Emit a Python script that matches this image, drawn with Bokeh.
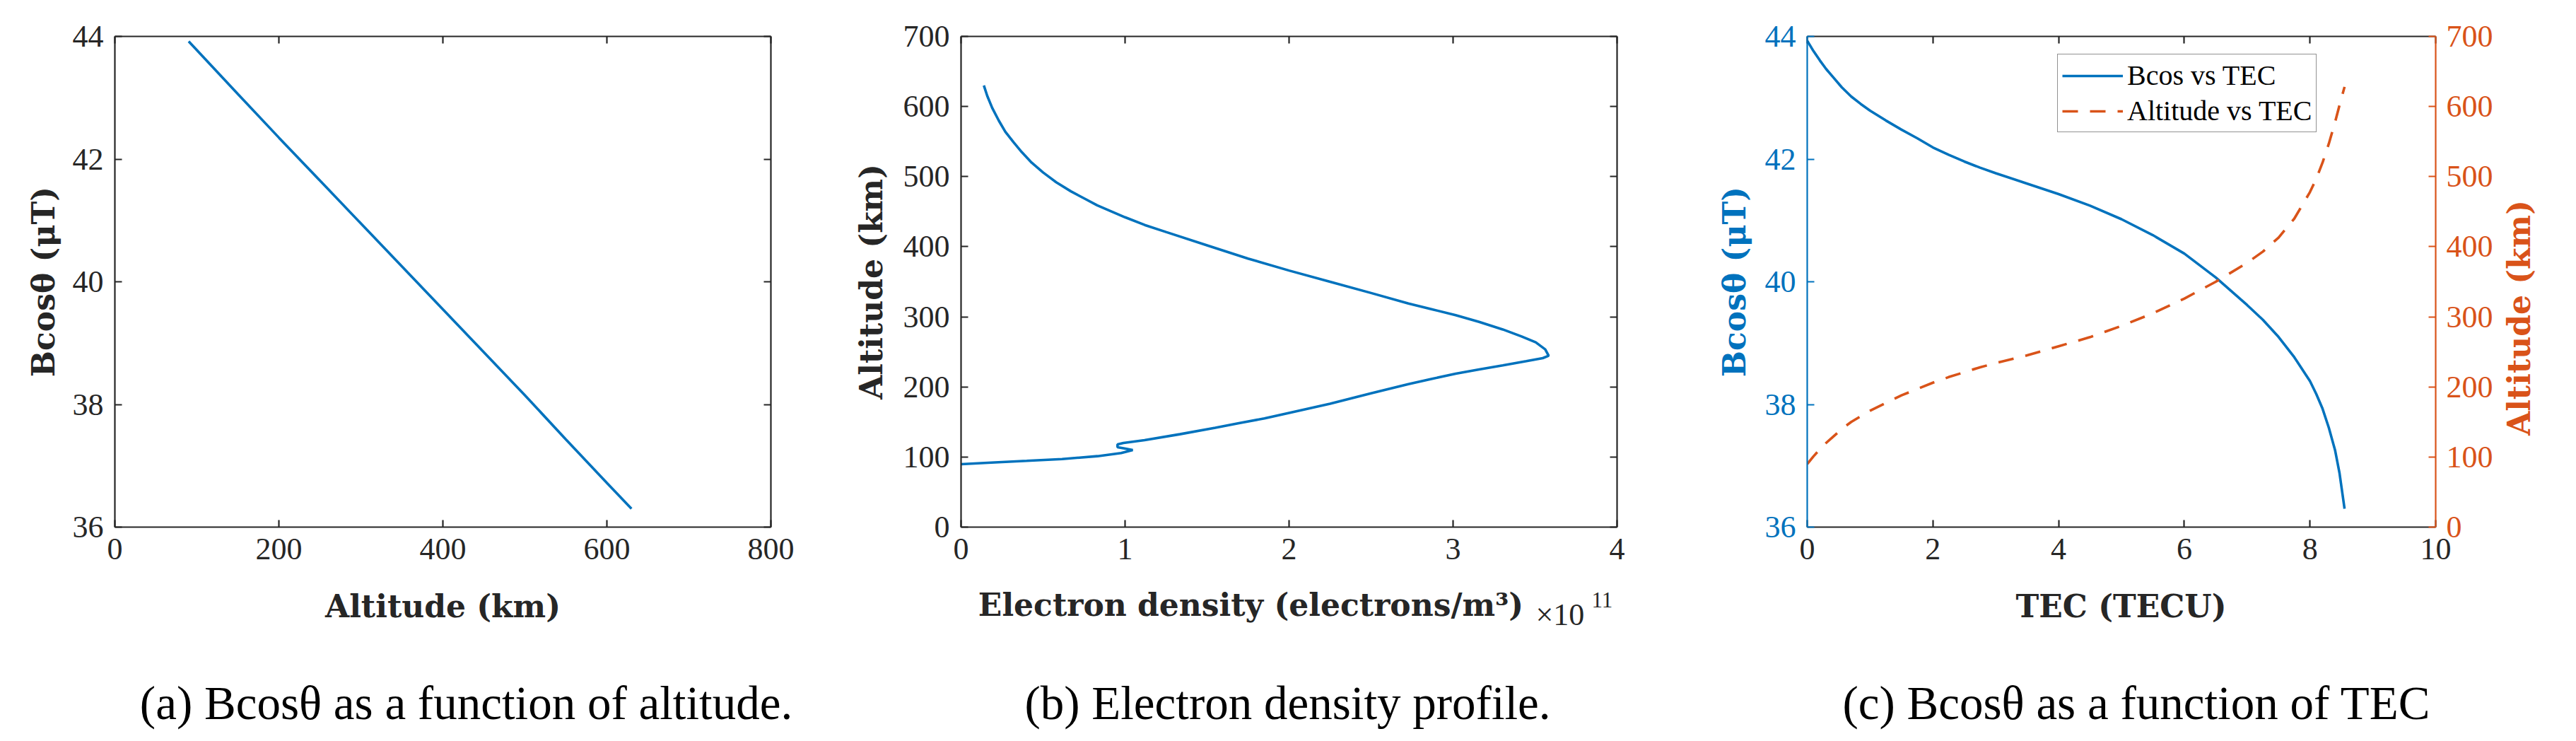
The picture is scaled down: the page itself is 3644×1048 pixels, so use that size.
import math
from bokeh.plotting import figure
from bokeh.models import (Range1d, LinearAxis, FixedTicker, Label, Legend,
                          LegendItem, CustomJSTickFormatter)
from bokeh.layouts import row, column
from bokeh.embed import file_html
from bokeh.resources import INLINE

# ---------------- data ----------------
# (a) Bcos(theta) vs altitude
alt_a = [90, 150, 200, 250, 300, 350, 400, 450, 500, 550, 600, 630]
bcos_a = [43.92, 43.06, 42.35, 41.65, 40.95, 40.25, 39.55, 38.85, 38.15, 37.43, 36.72, 36.30]

# (b) electron density profile (density in units of 1e11 electrons/m^3)
alt_b = [630, 615, 598, 580, 564, 549, 535, 520, 506, 492, 479, 469, 459, 450, 442,
         431, 421, 402, 383, 366, 350, 334, 319,
         310.7, 302.3, 292.8, 282, 272, 263.6, 253.5, 244.4, 241.1, 236.7, 230.7,
         224.9, 218.9, 211.5, 204.1, 191, 176, 163, 155, 148.3, 141.8, 132.5, 124.1,
         120, 118, 114, 112.3, 109.9, 105.6, 101.2, 97.1, 94.5, 92.1, 89.8]
ne_b = [0.139, 0.16, 0.19, 0.23, 0.27, 0.32, 0.37, 0.43, 0.5, 0.58, 0.67, 0.75, 0.83,
        0.92, 1.0, 1.12, 1.25, 1.5, 1.75, 2.0, 2.25, 2.5, 2.728,
        2.872, 3.016, 3.159, 3.303, 3.418, 3.504, 3.562, 3.583, 3.547,
        3.447, 3.303, 3.159, 3.016, 2.872, 2.728, 2.5, 2.25, 2.0, 1.85, 1.694, 1.55,
        1.334, 1.119, 0.99, 0.954, 0.954, 0.997, 1.047, 0.976, 0.832, 0.616, 0.40,
        0.185, 0.0]

# (c) Bcos and altitude vs TEC
tec_c = [0, 0.1, 0.2, 0.3, 0.4, 0.55, 0.7, 0.85, 1.0, 1.25, 1.5, 1.75, 2.0, 2.25,
         2.5, 2.75, 3.0, 3.5, 4.0, 4.5, 5.0, 5.5, 6.0, 6.5, 7.0, 7.25, 7.5, 7.75,
         8.0, 8.1, 8.2, 8.3, 8.4, 8.47, 8.55]
bcos_c = [43.93, 43.76, 43.61, 43.47, 43.35, 43.17, 43.02, 42.90, 42.79, 42.63,
          42.48, 42.34, 42.19, 42.07, 41.96, 41.86, 41.77, 41.60, 41.43, 41.24,
          41.02, 40.76, 40.46, 40.07, 39.62, 39.38, 39.10, 38.77, 38.38, 38.17,
          37.93, 37.62, 37.25, 36.88, 36.30]
alt_c = [90, 101, 111, 120, 128, 140, 150, 158, 166, 177, 188, 197, 206, 214, 221,
         228, 234, 245, 258, 271, 287, 305, 326, 350, 377, 393, 413, 440, 478, 497,
         520, 547, 578, 602, 628]

# tick values
ticks_alt800 = [0, 200, 400, 600, 800]
ticks_b36 = [36, 38, 40, 42, 44]
ticks_ne = [0, 1, 2, 3, 4]
ticks_alt700 = [0, 100, 200, 300, 400, 500, 600, 700]
ticks_tec = [0, 2, 4, 6, 8, 10]

xlabels = ["Altitude (km)", "Electron density (electrons/m³)", "TEC (TECU)"]
ylabels = ["Bcosθ (μT)", "Altitude (km)", "Bcosθ (μT)", "Altitude (km)"]
captions = ["(a) Bcosθ as a function of altitude.",
            "(b) Electron density profile.",
            "(c) Bcosθ as a function of TEC"]
legend_labels = ["Bcos vs TEC", "Altitude vs TEC"]

# ---------------- style ----------------
FT = "Liberation Serif"
FL = "DejaVu Serif"
DARK = "#262626"
BLUE = "#0072BD"
ORANGE = "#D95319"
TICK_FS = "44px"
LAB_FS = "44px"
CAP_FS = "67px"
LW_AX = 2.2
LW_LINE = 3.6
TOP_H = 814          # height of the plot row (page y 8 .. 822)
ANN_H = 218          # height of the text strip under it
FH = 694             # frame height of the three panels


def style_axis(ax, ticks, color=DARK, show_labels=True, label_standoff=10):
    ax.ticker = FixedTicker(ticks=ticks)
    ax.axis_line_color = color
    ax.axis_line_width = LW_AX
    ax.major_tick_line_color = color
    ax.major_tick_line_width = LW_AX
    ax.major_tick_in = 10
    ax.major_tick_out = 0
    ax.minor_tick_line_color = None
    ax.major_label_text_font = FT
    ax.major_label_text_font_size = TICK_FS
    ax.major_label_text_color = color
    ax.major_label_standoff = 16
    ax.axis_label_text_font = FL
    ax.axis_label_text_font_style = "bold"
    ax.axis_label_text_font_size = LAB_FS
    ax.axis_label_text_color = color
    ax.axis_label_standoff = label_standoff
    if not show_labels:
        ax.formatter = CustomJSTickFormatter(code="return ''")
        ax.major_label_text_font_size = "0px"
        ax.major_label_text_color = None
        ax.major_label_standoff = 0


def mirror(p, side, ticks):
    ax = LinearAxis()
    style_axis(ax, ticks, show_labels=False)
    p.add_layout(ax, side)


def make_fig(fw, left, right, xr, yr):
    p = figure(frame_width=fw, frame_height=FH, x_range=xr, y_range=yr,
               output_backend="svg", toolbar_location=None,
               min_border_left=left, min_border_right=right,
               min_border_top=51, min_border_bottom=TOP_H - 51 - FH)
    p.outline_line_color = None
    p.xgrid.visible = False
    p.ygrid.visible = False
    p.background_fill_color = "white"
    p.border_fill_color = "white"
    return p


def blank_fig(w, h):
    p = figure(frame_width=w, frame_height=h, x_range=Range1d(0, 1), y_range=Range1d(0, 1),
               output_backend="svg", toolbar_location=None,
               x_axis_location=None, y_axis_location=None,
               min_border_left=0, min_border_right=0, min_border_top=0,
               min_border_bottom=0)
    p.outline_line_color = None
    p.xgrid.visible = False
    p.ygrid.visible = False
    return p


# ---------------- panel (a) ----------------
pa = make_fig(928, 162, 102, Range1d(0, 800), Range1d(36, 44))
pa.line(alt_a, bcos_a, line_color=BLUE, line_width=LW_LINE)
style_axis(pa.xaxis[0], ticks_alt800)
style_axis(pa.yaxis[0], ticks_b36, label_standoff=13)
pa.yaxis[0].axis_label = ylabels[0]
mirror(pa, "above", ticks_alt800)
mirror(pa, "right", ticks_b36)

# ---------------- panel (b) ----------------
pb = make_fig(928, 167, 105, Range1d(0, 4), Range1d(0, 700))
pb.line(ne_b, alt_b, line_color=BLUE, line_width=LW_LINE)
style_axis(pb.xaxis[0], ticks_ne)
style_axis(pb.yaxis[0], ticks_alt700, label_standoff=17)
pb.yaxis[0].axis_label = ylabels[1]
mirror(pb, "above", ticks_ne)
mirror(pb, "right", ticks_alt700)

# ---------------- panel (c) ----------------
pc = make_fig(889, 164, 90, Range1d(0, 10), Range1d(36, 44))
pc.extra_y_ranges = {"alt": Range1d(0, 700)}
r1 = pc.line(tec_c, bcos_c, line_color=BLUE, line_width=LW_LINE)
r2 = pc.line(tec_c, alt_c, y_range_name="alt", line_color=ORANGE,
             line_width=LW_LINE, line_dash="22 17")
style_axis(pc.xaxis[0], ticks_tec)
style_axis(pc.yaxis[0], ticks_b36, color=BLUE, label_standoff=15)
pc.yaxis[0].axis_label = ylabels[2]
rax = LinearAxis(y_range_name="alt")
style_axis(rax, ticks_alt700, color=ORANGE)
rax.major_label_standoff = 15
pc.add_layout(rax, "right")
mirror(pc, "above", ticks_tec)
legend = Legend(items=[LegendItem(label=legend_labels[0], renderers=[r1]),
                       LegendItem(label=legend_labels[1], renderers=[r2])],
                location=(354, 558), margin=0, padding=6, spacing=3,
                glyph_width=86, glyph_height=20, label_standoff=6,
                label_text_font=FT, label_text_font_size="40px",
                label_text_color="black", border_line_color=DARK,
                border_line_width=1.3, background_fill_color="white",
                background_fill_alpha=1.0)
pc.add_layout(legend)

# right-hand axis title of (c), reading bottom to top, in its own strip
pr = blank_fig(93, TOP_H)
pr.add_layout(Label(x=28, y=TOP_H - (406 - 8), x_units="screen", y_units="screen",
                    text=ylabels[3], angle=math.pi / 2, text_align="center",
                    text_baseline="middle", text_font=FL, text_font_style="bold",
                    text_font_size=LAB_FS, text_color=ORANGE))

# ---------------- text strip: x labels, exponent, captions ----------------
ann = blank_fig(3628, ANN_H)


def put(x, y, text, font, size, color, align="center", style="normal"):
    # x, y: page pixels (y = baseline), converted to the strip's screen units
    ann.add_layout(Label(x=x - 8, y=8 + TOP_H + ANN_H - y, x_units="screen", y_units="screen",
                         text=text, text_align=align, text_baseline="alphabetic",
                         text_font=font, text_font_style=style, text_font_size=size,
                         text_color=color))


put(634, 865, xlabels[0], FL, LAB_FS, DARK, style="bold")
put(1777, 863, xlabels[1], FL, LAB_FS, DARK, style="bold")
put(2180, 877, "×10", FT, "44px", DARK, align="left")
put(2259, 856, "11", FT, "31px", DARK, align="left")
put(3008, 865, xlabels[2], FL, LAB_FS, DARK, style="bold")
put(667, 1001, captions[0], FT, CAP_FS, "black")
put(1829, 1001, captions[1], FT, CAP_FS, "black")
put(3030, 1001, captions[2], FT, CAP_FS, "black")

layout = column(row(pa, pb, pc, pr), ann)
open("out.html", "w").write(file_html(layout, INLINE))
